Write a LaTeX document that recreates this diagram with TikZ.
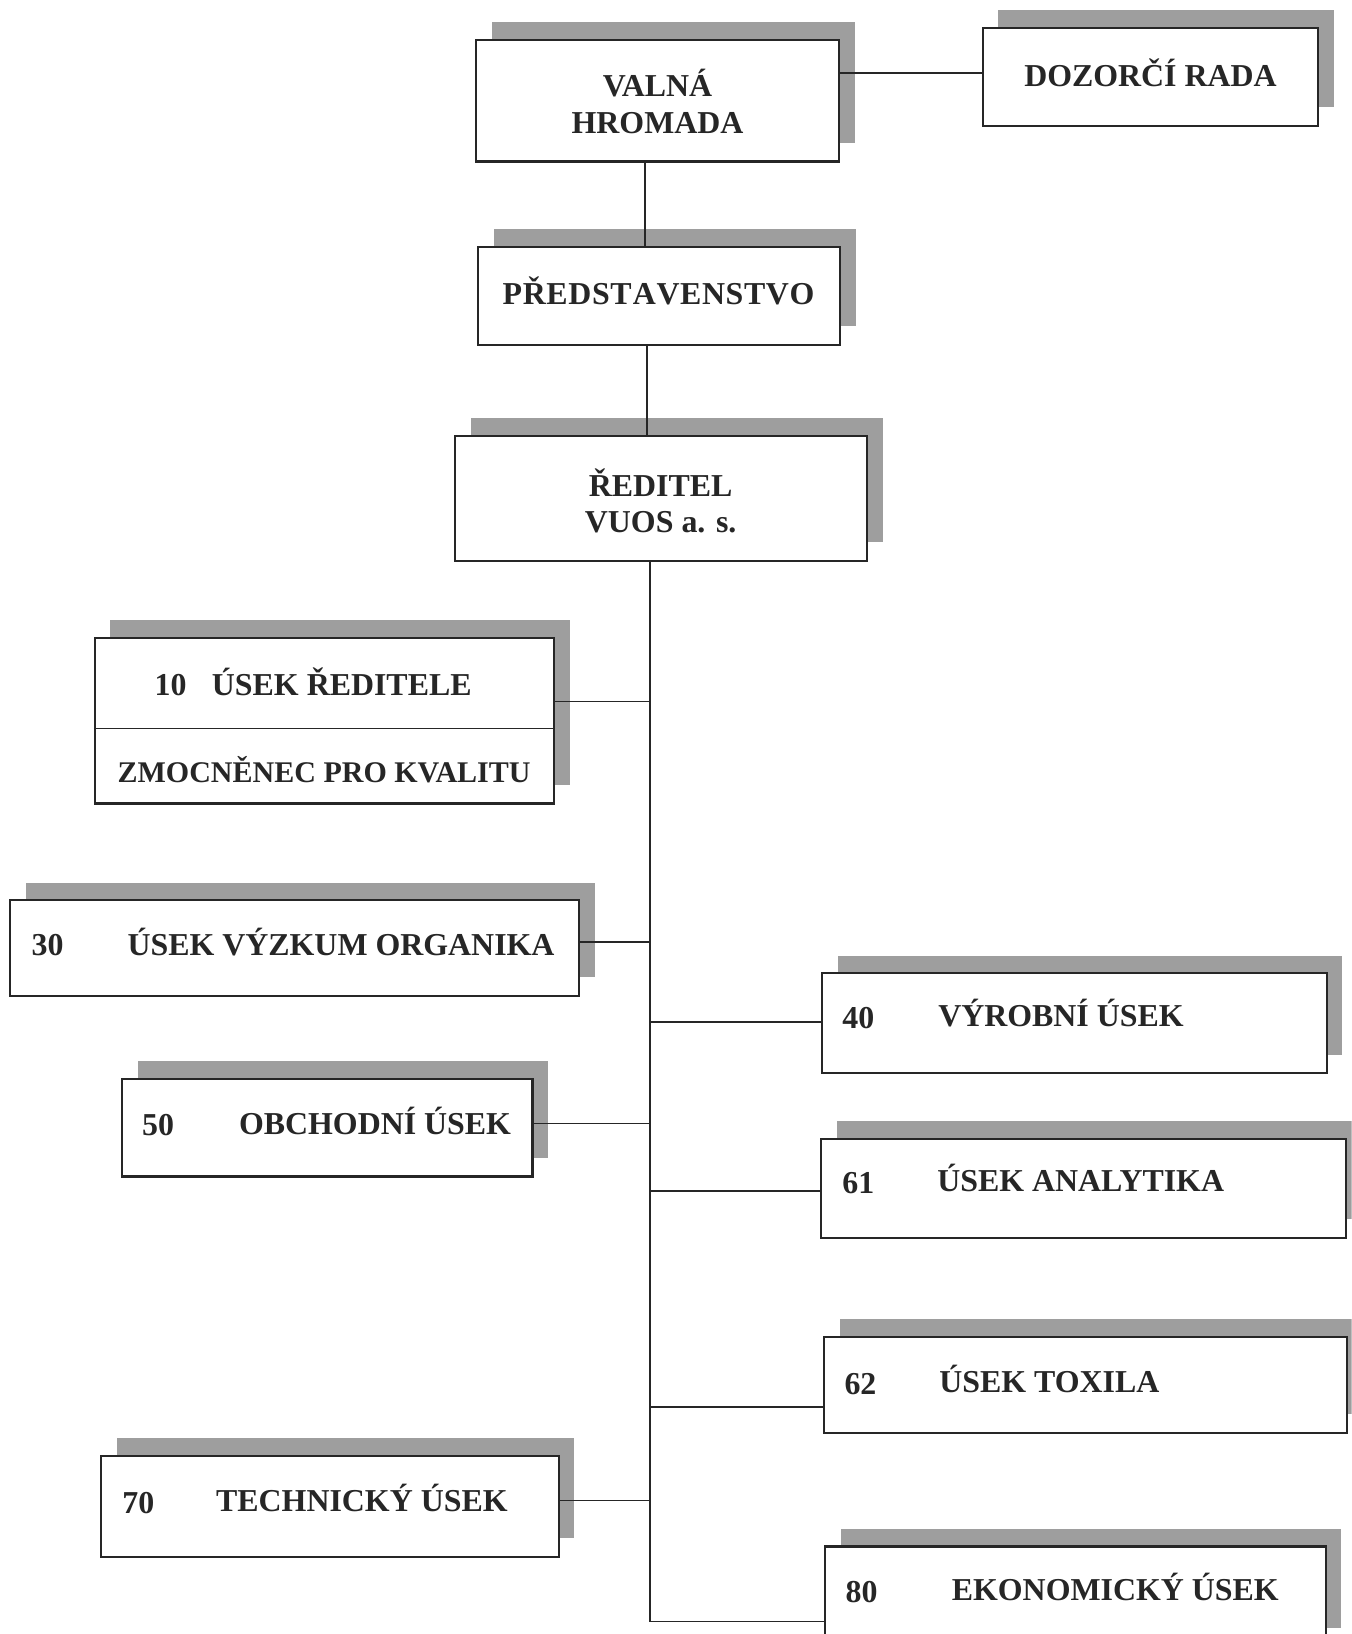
\documentclass[tikz,border=0pt]{standalone}
\usepackage{fontspec}
\setmainfont{Liberation Serif}
\newcommand\obox[5]{%
  \fill[shad] (#2+15,#3-17) rectangle (#4+15,#5-18);
  \node[boxst, minimum width={(#4-#2)*0.5pt}, minimum height={(#5-#3)*0.5pt}] (#1) at ({(#2+#4)/2},{(#3+#5)/2}) {};}
\begin{document}
\begin{tikzpicture}[x=0.5pt,y=-0.5pt,
  boxst/.style={draw=black!85, line width=1pt, fill=white, inner sep=0pt},
  shad/.style={fill=black!38},
  lbl/.style={inner sep=0pt, anchor=base west, font=\fontsize{15.3pt}{18pt}\selectfont\bfseries, text=black!85},
  clbl/.style={lbl, anchor=base},
  slbl/.style={lbl, anchor=base, font=\fontsize{14.4pt}{17pt}\selectfont\bfseries},
  conn/.style={draw=black!85, line width=0.8pt}]
\useasboundingbox (0,0) rectangle (1297,1568);
\clip (0,0) rectangle (1297,1568);
\fill[white] (0,0) rectangle (1297,1568);

% boxes
\obox{valna}{457}{38}{805}{155}
\obox{dozor}{943}{27}{1265}{121}
\obox{pred}{459}{237}{806}{331}
\obox{redit}{437}{418}{832}{538}
\obox{b10}{91}{612}{532}{771}
\obox{b30}{10}{864}{556}{956}
\obox{b40}{789}{934}{1273}{1030}
\obox{b50}{117}{1035}{511}{1129}
\obox{b61}{788}{1093}{1292}{1188}
\obox{b62}{791}{1283}{1293}{1375}
\obox{b70}{97}{1397}{536}{1494}
\obox{b80}{792}{1484}{1272}{1580}
\draw[conn] (b10.west |- 0,699) -- (b10.east |- 0,699);

% texts
\node[clbl] (tvalna1) at (631,93) {VALNÁ};
\node[clbl] (tvalna2) at (631,128) {HROMADA};
\node[lbl, anchor=base] (tdozor) at (1104,83) {DOZORČÍ RADA};
\node[clbl] (tpred) at (632,292) {P\kern0.3ptŘ\kern0.3ptE\kern0.3ptD\kern0.3ptS\kern0.3ptT\kern0.6ptA\kern0.3ptV\kern0.3ptE\kern0.3ptN\kern0.3ptS\kern0.3ptT\kern0.3ptV\kern0.3ptO};
\node[clbl] (tred1) at (634,476) {ŘEDITEL};
\node[clbl] (tred2) at (634,511) {VUOS a. s.};
\node[lbl] (n10) at (148,667) {10};
\node[lbl] (t10) at (203,667) {ÚSEK ŘEDITELE};
\node[slbl] (t10b) at (311,751) {ZMOCNĚNEC PRO KVALITU};
\node[lbl] (n30) at (30,917) {30};
\node[lbl] (t30) at (122,917) {ÚSEK VÝZKUM ORGANIKA};
\node[lbl] (n40) at (808,987) {40};
\node[lbl] (t40) at (900,985) {VÝROBNÍ ÚSEK};
\node[lbl] (n50) at (136,1090) {50};
\node[lbl] (t50) at (229,1089) {OBCHODNÍ ÚSEK};
\node[lbl] (n61) at (808,1145) {61};
\node[lbl] (t61) at (899,1143) {ÚSEK ANALYTIKA};
\node[lbl] (n62) at (810,1338) {62};
\node[lbl] (t62) at (901,1336) {ÚSEK TOXILA};
\node[lbl] (n70) at (117,1452) {70};
\node[lbl] (t70) at (207,1450) {TECHNICKÝ ÚSEK};
\node[lbl] (n80) at (811,1538) {80};
\node[lbl] (t80) at (913,1536) {EKONOMICKÝ ÚSEK};

% connectors
\coordinate (v1) at (619,0);
\coordinate (v2) at (621,0);
\coordinate (tb) at (624,1556);
\draw[conn] (valna.east |- 0,70) -- (dozor.west |- 0,70);
\draw[conn] (valna.south -| v1) -- (pred.north -| v1);
\draw[conn] (pred.south -| v2) -- (redit.north -| v2);
\draw[conn] (redit.south -| tb) -- (tb);
\draw[conn] (b10.east |- 0,673) -- (tb |- 0,673);
\draw[conn] (b30.east |- 0,904) -- (tb |- 0,904);
\draw[conn] (tb |- 0,981) -- (b40.west |- 0,981);
\draw[conn] (b50.east |- 0,1078) -- (tb |- 0,1078);
\draw[conn] (tb |- 0,1143) -- (b61.west |- 0,1143);
\draw[conn] (tb |- 0,1350) -- (b62.west |- 0,1350);
\draw[conn] (b70.east |- 0,1440) -- (tb |- 0,1440);
\draw[conn] (tb) -- (b80.west |- tb);
\end{tikzpicture}
\end{document}
